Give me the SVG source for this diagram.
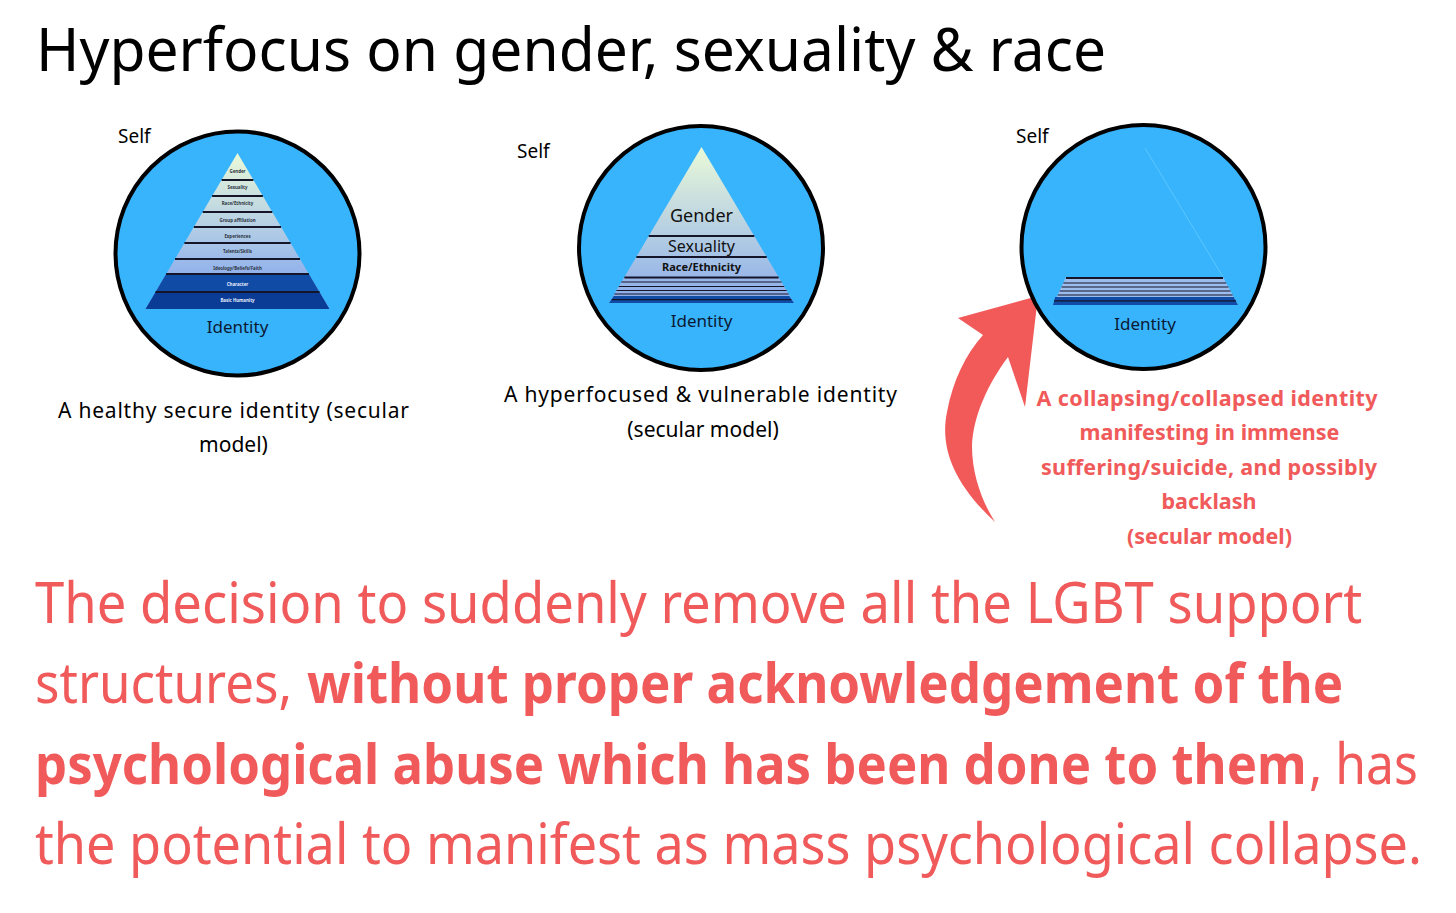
<svg xmlns="http://www.w3.org/2000/svg" width="1456" height="913" viewBox="0 0 1456 913">
<defs>
<linearGradient id="g1" gradientUnits="userSpaceOnUse" x1="0" y1="153" x2="0" y2="274">
<stop offset="0" stop-color="#eafad8"/><stop offset="1" stop-color="#92b2ec"/>
</linearGradient>
<linearGradient id="g2" gradientUnits="userSpaceOnUse" x1="0" y1="147" x2="0" y2="296">
<stop offset="0" stop-color="#eafad8"/><stop offset="1" stop-color="#8eaeea"/>
</linearGradient>
<style>
.t{font-family:"Noto Sans","Open Sans",sans-serif;}
.circ{fill:#38b4fd;stroke:#000;stroke-width:4;}
.sep{stroke:#15152a;stroke-width:2;}
.sep1{stroke:#15152a;stroke-width:1.2;}
.dk1{fill:#104ba6;}
.dk2{fill:#0a3c96;}
.self{font-size:19px;fill:#000;}
.idt{font-size:17px;fill:#0b1a33;text-anchor:middle;}
.lab{font-size:4.4px;font-weight:700;fill:#2c3340;text-anchor:middle;}
.labw{font-size:4.4px;font-weight:700;fill:#e8eefc;text-anchor:middle;}
.cap{font-size:21px;fill:#000;text-anchor:middle;}
.rcap{font-size:21.5px;font-weight:700;fill:#f05a5a;text-anchor:middle;}
.big{font-size:56px;fill:#f05a5a;}
.b{font-weight:700;}
</style>
</defs>
<rect width="1456" height="913" fill="#fff"/>

<g id="title">
<text class="t" x="36" y="71" font-size="60" fill="#000" textLength="1070" lengthAdjust="spacingAndGlyphs">Hyperfocus on gender, sexuality &amp; race</text>
</g>

<g id="connectors">
<path d="M 995 522 C 952 482 940 446 947 412 C 953 380 966 354 983 335 L 958 318 L 1038 296 L 1025 407 L 1008 357 C 988 384 973 416 972 446 C 972 476 983 503 995 522 Z" fill="#f25a5a"/>
</g>

<g id="healthy">
<circle class="circ" cx="237.5" cy="253.5" r="122"/>
<polygon points="237.5,153 329.5,309 145.5,309" fill="url(#g1)"/>
<polygon points="166.1,274 308.9,274 319.5,292 155.5,292" class="dk1"/>
<polygon points="155.5,292 319.5,292 329.5,309 145.5,309" class="dk2"/>
<line class="sep" x1="221.6" y1="180" x2="253.4" y2="180"/>
<line class="sep" x1="212.1" y1="196" x2="262.9" y2="196"/>
<line class="sep" x1="202.7" y1="212" x2="272.3" y2="212"/>
<line class="sep" x1="193.9" y1="227" x2="281.1" y2="227"/>
<line class="sep" x1="184.4" y1="243" x2="290.6" y2="243"/>
<line class="sep" x1="175" y1="259" x2="300" y2="259"/>
<line class="sep" x1="166.1" y1="274" x2="308.9" y2="274"/>
<line class="sep" x1="155.5" y1="292" x2="319.5" y2="292"/>
<text class="t lab" x="237.5" y="173">Gender</text>
<text class="t lab" x="237.5" y="189.3">Sexuality</text>
<text class="t lab" x="237.5" y="205">Race/Ethnicity</text>
<text class="t lab" x="237.5" y="221.6">Group affiliation</text>
<text class="t lab" x="237.5" y="237.6">Experiences</text>
<text class="t lab" x="237.5" y="253.3">Talents/Skills</text>
<text class="t lab" x="237.5" y="269.6">Ideology/Beliefs/Faith</text>
<text class="t labw" x="237.5" y="286.3">Character</text>
<text class="t labw" x="237.5" y="302.3">Basic Humanity</text>
<text class="t self" x="118" y="143">Self</text>
<text class="t idt" x="237.5" y="333">Identity</text>
</g>

<g id="hyperfocused">
<circle class="circ" cx="701" cy="248" r="122"/>
<polygon points="701.5,147 794,303 609,303" fill="url(#g2)"/>
<polygon points="613.7,296 789.3,296 794,303 609,303" class="dk1"/>
<line class="sep1" x1="611.8" y1="299.6" x2="791.2" y2="299.6" stroke="#0a2e7a"/>
<line class="sep" x1="648.7" y1="236" x2="754.3" y2="236"/>
<line class="sep" x1="636.3" y1="257" x2="766.7" y2="257"/>
<line class="sep" x1="624.4" y1="277.5" x2="778.6" y2="277.5"/>
<line class="sep1" x1="621.4" y1="282" x2="781.6" y2="282"/>
<line class="sep1" x1="618.8" y1="286.5" x2="784.2" y2="286.5"/>
<line class="sep1" x1="616.4" y1="290.5" x2="786.6" y2="290.5"/>
<line class="sep1" x1="614.4" y1="294" x2="788.6" y2="294"/>
<text class="t" x="701.5" y="222" font-size="18" fill="#111" text-anchor="middle">Gender</text>
<text class="t" x="701.5" y="252" font-size="16" fill="#111" text-anchor="middle">Sexuality</text>
<text class="t" x="701.5" y="271" font-size="11" font-weight="700" fill="#111" text-anchor="middle">Race/Ethnicity</text>
<text class="t self" x="517" y="158">Self</text>
<text class="t idt" x="701.5" y="327">Identity</text>
</g>

<g id="collapsed">
<circle class="circ" cx="1143.5" cy="247" r="122"/>
<line x1="1145" y1="148" x2="1223" y2="277" stroke="#5cc6ff" stroke-width="1"/>
<polygon points="1066,277 1223,277 1238,305 1053,305" fill="#9cbcec"/>
<polygon points="1055.2,297 1233.7,297 1238,305 1053,305" class="dk1"/>
<line class="sep1" x1="1054" y1="300.8" x2="1236" y2="300.8" stroke="#0a2e7a"/>
<line class="sep" x1="1066" y1="278" x2="1223" y2="278"/>
<line class="sep1" x1="1063.4" y1="283" x2="1226.2" y2="283"/>
<line class="sep1" x1="1061.6" y1="287" x2="1228.4" y2="287"/>
<line class="sep1" x1="1059.7" y1="291" x2="1230.5" y2="291"/>
<line class="sep1" x1="1057.8" y1="295" x2="1232.6" y2="295"/>
<text class="t self" x="1016" y="143">Self</text>
<text class="t idt" x="1145" y="330">Identity</text>
</g>

<g id="captions">
<text class="t cap" x="233.5" y="418" textLength="351">A healthy secure identity (secular</text>
<text class="t cap" x="233.5" y="452">model)</text>
<text class="t cap" x="700.5" y="402" textLength="393">A hyperfocused &amp; vulnerable identity</text>
<text class="t cap" x="703" y="437">(secular model)</text>
<text class="t rcap" x="1207" y="406" textLength="341">A collapsing/collapsed identity</text>
<text class="t rcap" x="1209.5" y="440">manifesting in immense</text>
<text class="t rcap" x="1209" y="475" textLength="336">suffering/suicide, and possibly</text>
<text class="t rcap" x="1209" y="509">backlash</text>
<text class="t rcap" x="1209.5" y="544">(secular model)</text>
</g>

<g id="statement">
<text class="t big" transform="translate(35,623) scale(0.94,1)" x="0" y="0" textLength="1412" lengthAdjust="spacingAndGlyphs">The decision to suddenly remove all the LGBT support</text>
<text class="t big" transform="translate(35,703) scale(0.915,1)" x="0" y="0" textLength="281" lengthAdjust="spacingAndGlyphs">structures,</text>
<text class="t big b" transform="translate(307,703) scale(0.909,1)" x="0" y="0" textLength="1140" lengthAdjust="spacingAndGlyphs">without proper acknowledgement of the</text>
<text class="t big b" transform="translate(35,784) scale(0.909,1)" x="0" y="0" textLength="1399" lengthAdjust="spacingAndGlyphs">psychological abuse which has been done to them</text>
<text class="t big" transform="translate(1309,784) scale(0.9,1)" x="0" y="0" textLength="121" lengthAdjust="spacingAndGlyphs">, has</text>
<text class="t big" transform="translate(35,864) scale(0.934,1)" x="0" y="0" textLength="1485" lengthAdjust="spacingAndGlyphs">the potential to manifest as mass psychological collapse.</text>
</g>
</svg>
